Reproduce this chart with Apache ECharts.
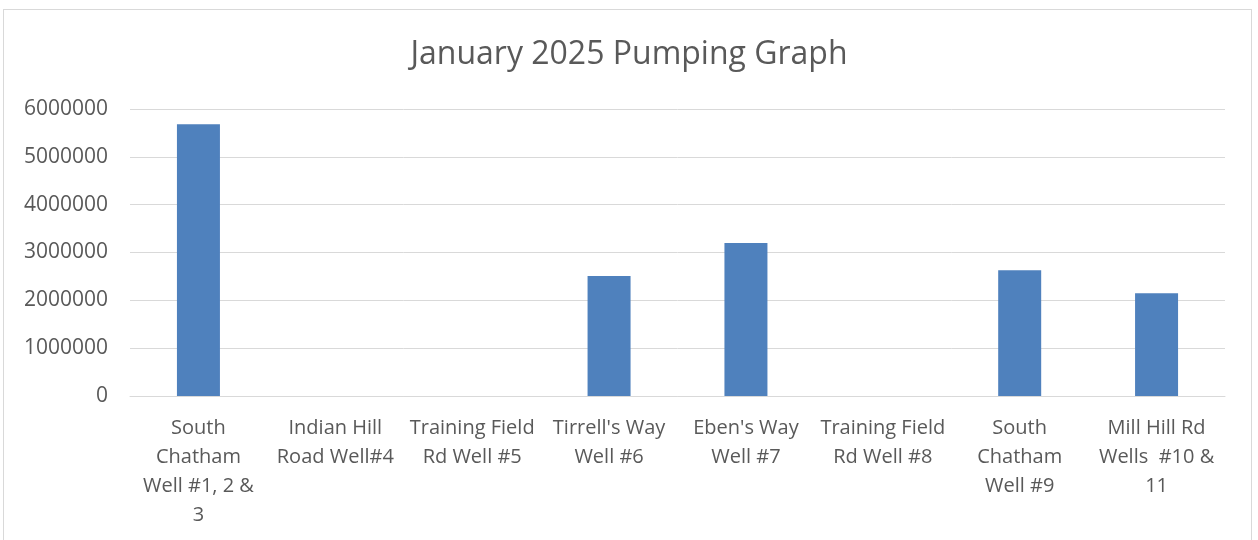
<!DOCTYPE html>
<html>
<head>
<meta charset="utf-8">
<script src="https://cdn.jsdelivr.net/npm/echarts@6/dist/echarts.min.js"></script>
<style>
  body { margin: 0; background: #fff; }
  #frame { position: absolute; left: 3px; top: 9px; width: 1249px; height: 540px; border: 1px solid #d9d9d9; box-sizing: border-box; }
  #chart { position: absolute; left: 0; top: 0; width: 1258px; height: 540px; }
</style>
</head>
<body>
<div id="frame"></div>
<div id="chart"></div>
<script>
var wells = [
    'South\nChatham\nWell #1, 2 &\n3',
    'Indian Hill\nRoad Well#4',
    'Training Field\nRd Well #5',
    "Tirrell's Way\nWell #6",
    "Eben's Way\nWell #7",
    'Training Field\nRd Well #8',
    'South\nChatham\nWell #9',
    'Mill Hill Rd\nWells  #10 &\n11'
];
var gallons = [5680000, 0, 0, 2510000, 3200000, 0, 2630000, 2150000];

var chart = echarts.init(document.getElementById('chart'));
var option = {
    title: {
        text: 'January 2025 Pumping Graph',
        left: 'center',
        top: 34,
        textStyle: {
            fontFamily: 'Open Sans',
            fontSize: 32,
            fontWeight: 'normal',
            color: '#595959'
        }
    },
    grid: {
        left: 130,
        right: 33,
        top: 109,
        bottom: 144
    },
    xAxis: {
        type: 'category',
        data: wells,
        axisLine: { lineStyle: { color: '#d9d9d9' } },
        axisTick: { show: false },
        axisLabel: {
            interval: 0,
            margin: 18,
            fontFamily: 'Open Sans',
            fontSize: 20,
            lineHeight: 29,
            color: '#595959'
        }
    },
    yAxis: {
        type: 'value',
        min: 0,
        max: 6000000,
        interval: 1000000,
        axisLine: { show: false },
        axisTick: { show: false },
        axisLabel: {
            margin: 22,
            fontFamily: 'Open Sans',
            fontSize: 21,
            color: '#595959',
            formatter: function (v) { return String(v); }
        },
        splitLine: { lineStyle: { color: '#d9d9d9', width: 1 } }
    },
    series: [
        {
            type: 'bar',
            data: gallons,
            barWidth: 43,
            itemStyle: { color: '#4f81bd' }
        }
    ]
};
chart.setOption(option);
</script>
</body>
</html>
